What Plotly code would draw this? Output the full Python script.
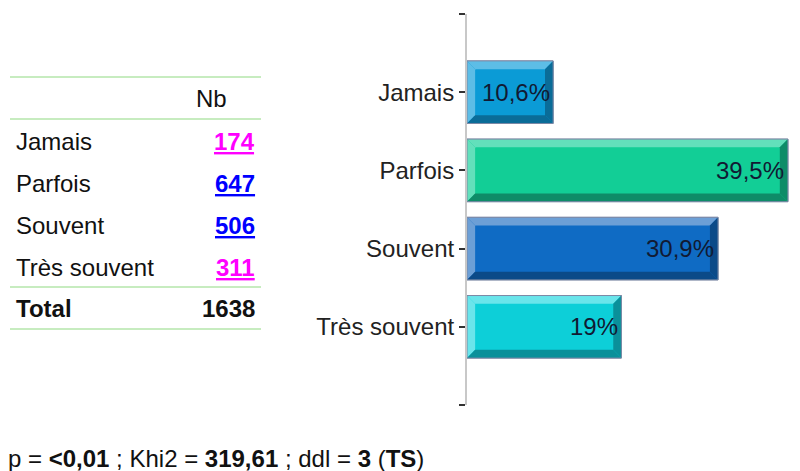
import plotly.graph_objects as go

categories = ["Jamais", "Parfois", "Souvent", "Très souvent"]
percents = [10.6, 39.5, 30.9, 19.0]
pct_labels = ["10,6%", "39,5%", "30,9%", "19%"]
counts = [174, 647, 506, 311]
count_colors = ["#FF00FF", "#0000FF", "#0000FF", "#FF00FF"]
total = 1638
face_colors = ["#0B9BD6", "#12CE96", "#0F6BC4", "#0DCFD8"]
light_colors = ["#5DBDE6", "#62E0BB", "#6C9FD6", "#6AE5EB"]
dark_colors = ["#0A6C98", "#0E8C68", "#0B4A88", "#0A909A"]
footer = "p = <b>&lt;0,01</b> ; Khi2 = <b>319,61</b> ; ddl = <b>3</b> (<b>TS</b>)"

OFF = 8  # page body margin
W, H = 800 - OFF, 471 - OFF
L, R, T, B = 467 - OFF, 8, 14 - OFF, 66
PW, PH = W - L - R, H - T - B
FONT = "Liberation Sans, Arial, sans-serif"
FS = 24

def px(x):
    return (x - OFF - L) / PW

def py(y):
    return (H - B - (y - OFF)) / PH

ypos = list(range(len(categories)))
fig = go.Figure()
fig.add_trace(go.Bar(
    x=percents, y=ypos, orientation="h", width=0.8,
    marker=dict(color=face_colors, line=dict(color="#7d8aa6", width=1)),
    hoverinfo="skip", showlegend=False,
))

shapes = []
annotations = []
dx, dy, h = 1.0, 0.105, 0.4
for i, v in enumerate(percents):
    c = ypos[i]
    t, b = c - h, c + h
    shapes.append(dict(type="path", xref="x", yref="y", line=dict(width=0), fillcolor=light_colors[i],
                       path=f"M 0,{t} L {v},{t} L {v-dx},{t+dy} L {dx},{t+dy} Z"))
    shapes.append(dict(type="path", xref="x", yref="y", line=dict(width=0), fillcolor=light_colors[i],
                       path=f"M 0,{t} L {dx},{t+dy} L {dx},{b-dy} L 0,{b} Z"))
    shapes.append(dict(type="path", xref="x", yref="y", line=dict(width=0), fillcolor=dark_colors[i],
                       path=f"M 0,{b} L {dx},{b-dy} L {v-dx},{b-dy} L {v},{b} Z"))
    shapes.append(dict(type="path", xref="x", yref="y", line=dict(width=0), fillcolor=dark_colors[i],
                       path=f"M {v},{t} L {v},{b} L {v-dx},{b-dy} L {v-dx},{t+dy} Z"))
    shapes.append(dict(type="rect", xref="x", yref="y", x0=0, x1=v, y0=t, y1=b,
                       line=dict(color="#7d8aa6", width=1), fillcolor="rgba(0,0,0,0)"))
    annotations.append(dict(x=v - 0.2, y=c, xref="x", yref="y", text=pct_labels[i],
                            showarrow=False, xanchor="right", yanchor="middle",
                            font=dict(family=FONT, size=FS, color="#111a33")))

# left faint border
shapes.append(dict(type="line", xref="paper", yref="paper", x0=px(3), x1=px(3), y0=py(0), y1=py(471),
                   line=dict(color="#e6f6dc", width=2)))
# table lines
for yl in [77, 119, 287, 329]:
    shapes.append(dict(type="line", xref="paper", yref="paper", x0=px(10), x1=px(261), y0=py(yl), y1=py(yl),
                       line=dict(color="#8fd980", width=1)))

row_y = [141, 183, 225, 267]
annotations.append(dict(x=px(229), y=py(99), xref="paper", yref="paper", text="Nb", showarrow=False,
                        xanchor="right", yanchor="middle", font=dict(family=FONT, size=FS, color="#111")))
for i, cat in enumerate(categories):
    annotations.append(dict(x=px(14), y=py(row_y[i]), xref="paper", yref="paper", text=cat, showarrow=False,
                            xanchor="left", yanchor="middle", font=dict(family=FONT, size=FS, color="#111")))
    annotations.append(dict(x=px(257), y=py(row_y[i]), xref="paper", yref="paper",
                            text=f"<b><u>{counts[i]}</u></b>", showarrow=False,
                            xanchor="right", yanchor="middle", font=dict(family=FONT, size=FS, color=count_colors[i])))
annotations.append(dict(x=px(14), y=py(308), xref="paper", yref="paper", text="<b>Total</b>", showarrow=False,
                        xanchor="left", yanchor="middle", font=dict(family=FONT, size=FS, color="#111")))
annotations.append(dict(x=px(257), y=py(308), xref="paper", yref="paper", text=f"<b>{total}</b>", showarrow=False,
                        xanchor="right", yanchor="middle", font=dict(family=FONT, size=FS, color="#111")))
annotations.append(dict(x=px(6), y=py(458), xref="paper", yref="paper", text=footer, showarrow=False,
                        xanchor="left", yanchor="middle", font=dict(family=FONT, size=FS, color="#111")))

fig.update_layout(
    width=W, height=H, margin=dict(l=L, r=R, t=T, b=B),
    paper_bgcolor="white", plot_bgcolor="white",
    xaxis=dict(range=[0, 40], visible=False, fixedrange=True),
    yaxis=dict(range=[4, -1], tickvals=[-1] + ypos + [4], ticktext=[""] + categories + [""],
               showline=True, linecolor="#c8c8c8", linewidth=2, ticks="outside", ticklen=6,
               tickcolor="#333", tickwidth=2, showgrid=False, zeroline=False,
               tickfont=dict(family=FONT, size=FS, color="#222"), fixedrange=True),
    shapes=shapes, annotations=annotations, bargap=0.2,
)
fig.write_html("out.html")
